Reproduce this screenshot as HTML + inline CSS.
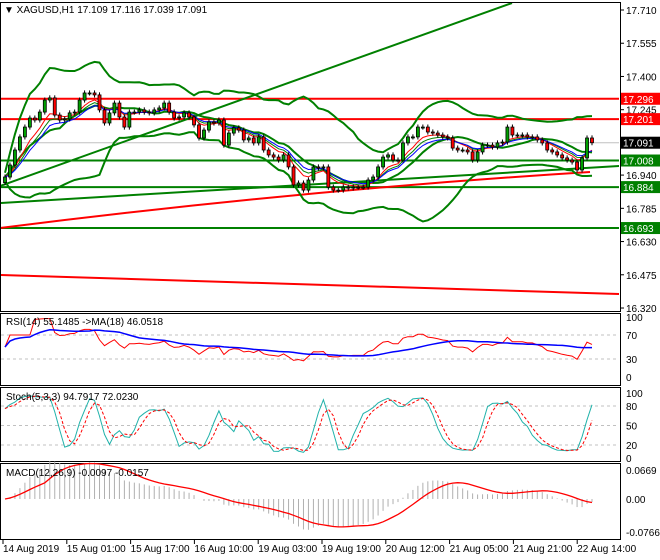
<!DOCTYPE html>
<html><head><meta charset="utf-8"><style>
html,body{margin:0;padding:0;background:#fff;}
svg{display:block;font-family:"Liberation Sans",sans-serif;}
</style></head><body>
<svg id="c" width="660" height="560" viewBox="0 0 660 560"></svg>
<script>
const closes=[16.931,16.987,17.057,17.118,17.164,17.206,17.197,17.234,17.290,17.300,
17.220,17.197,17.202,17.230,17.234,17.290,17.323,17.323,17.314,17.244,
17.183,17.230,17.276,17.211,17.164,17.234,17.234,17.244,17.234,17.230,
17.244,17.253,17.276,17.234,17.206,17.211,17.230,17.211,17.174,17.113,
17.150,17.188,17.183,17.197,17.080,17.136,17.160,17.150,17.104,17.113,
17.090,17.118,17.057,17.034,17.024,17.010,17.034,16.978,16.894,16.903,
16.870,16.917,16.978,16.973,16.978,16.884,16.870,16.870,16.884,16.880,
16.884,16.884,16.884,16.917,16.931,16.978,17.024,17.034,17.010,17.010,
17.090,17.118,17.118,17.164,17.164,17.141,17.136,17.127,17.118,17.113,
17.066,17.057,17.057,17.048,17.010,17.048,17.080,17.080,17.071,17.090,
17.094,17.164,17.127,17.127,17.127,17.118,17.118,17.104,17.090,17.057,
17.048,17.034,17.020,17.010,17.001,16.964,17.020,17.113,17.091];
const firstOpen=16.905;
const priceTicks=[17.710,17.555,17.400,17.245,16.940,16.785,16.630,16.475,16.320];
const redLevels=[17.296,17.201];
const greenLevels=[17.008,16.884,16.693];
const lastPrice=17.091;
const timeLabels=["14 Aug 2019","15 Aug 01:00","15 Aug 17:00","16 Aug 10:00","19 Aug 03:00","19 Aug 19:00","20 Aug 12:00","21 Aug 05:00","21 Aug 21:00","22 Aug 14:00"];
const rsiTicks=[100,70,30,0];
const stochTicks=[100,80,50,20,0];
const macdTicks=[0.0669,0.00,-0.0766];

const svg=document.getElementById('c');
const NS='http://www.w3.org/2000/svg';
function mk(tag,at,parent){const e=document.createElementNS(NS,tag);for(const k in at)e.setAttribute(k,at[k]);(parent||svg).appendChild(e);return e;}
const N=closes.length;
const X0=5,XW=(592-5)/(N-1);
const xs=i=>X0+i*XW;
const py=p=>10+(17.710-p)*214.4;
const ry=v=>377-v*0.6;
const sy=v=>458-v*0.65;
const my=v=>499-v*430;
function poly(vals,yf,attrs,name,start){let pts=[];vals.forEach((v,i)=>{if(v!=null&&i>=(start||0))pts.push(xs(i).toFixed(1)+','+yf(v).toFixed(1));});const e=mk('polyline',Object.assign({points:pts.join(' '),fill:'none'},attrs));return e;}

// frames
[[0,2,620,311],[0,313,620,385],[0,387,620,461],[0,463,620,539]].forEach((r,i)=>{const e=mk('rect',{x:r[0]+0.5,y:r[1]+0.5,width:r[2]-r[0],height:r[3]-r[1],fill:'none',stroke:'#000'});
});

// derived series
const opens=closes.map((c,i)=>i?closes[i-1]:firstOpen);
const highs=closes.map((c,i)=>Math.max(c,opens[i])+0.012);
const lows=closes.map((c,i)=>Math.min(c,opens[i])-0.012);
function ema(a,n){const k=2/(n+1);let r=[],p=a[0];a.forEach(v=>{p=v*k+p*(1-k);r.push(p);});return r;}
function sma(a,n){return a.map((v,i)=>{const s=a.slice(Math.max(0,i-n+1),i+1);return s.reduce((x,y)=>x+y,0)/s.length;});}
const mid=sma(closes,20);
const sd=closes.map((v,i)=>{const s=closes.slice(Math.max(0,i-19),i+1);const m=mid[i];return Math.sqrt(s.reduce((a,b)=>a+(b-m)*(b-m),0)/s.length);});

// main clip
mk('clipPath',{id:'mc'}).appendChild(Object.assign(document.createElementNS(NS,'rect'),{}));
document.querySelector('#mc rect').setAttribute('x',1);document.querySelector('#mc rect').setAttribute('y',3);
document.querySelector('#mc rect').setAttribute('width',618);document.querySelector('#mc rect').setAttribute('height',307);
const g=mk('g',{'clip-path':'url(#mc)'});


function line(x1,y1,x2,y2,st,w,name,parent){const e=mk('line',{x1,y1,x2,y2,stroke:st,'stroke-width':w},parent||g);return e;}
line(0,py(lastPrice),620,py(lastPrice),'#c0c0c0',1,'current-price-line');
redLevels.forEach(l=>line(0,py(l),620,py(l),'#ff0000',2,'resistance-level'));
greenLevels.forEach(l=>line(0,py(l),620,py(l),'#008000',2,'support-level'));
line(0,186,512,3,'#008000',2,'trendline-upper');
line(0,203,620,166,'#008000',2,'trendline-lower');
line(0,275,620,294,'#ff0000',2,'red-lower-line');
{const e=mk('path',{d:'M0,228 Q300,190 590,172',fill:'none',stroke:'#ff0000','stroke-width':2},g);}

poly(mid.map((m,i)=>m+2.3*sd[i]+0.02),py,{stroke:'#008000','stroke-width':2},'bollinger-upper').remove;
g.appendChild(svg.lastChild);
poly(mid.map((m,i)=>m-2.3*sd[i]-0.02),py,{stroke:'#008000','stroke-width':2},'bollinger-lower');g.appendChild(svg.lastChild);
poly(sma(closes,12),py,{stroke:'#008000','stroke-width':2},'bollinger-middle');g.appendChild(svg.lastChild);
poly(ema(closes,8),py,{stroke:'#008000','stroke-width':1},'ma-green');g.appendChild(svg.lastChild);
poly(ema(closes,6),py,{stroke:'#ff0000','stroke-width':1},'ma-red');g.appendChild(svg.lastChild);
poly(ema(closes,10),py,{stroke:'#0000ff','stroke-width':1},'ma-blue');g.appendChild(svg.lastChild);

closes.forEach((c,i)=>{const x=xs(i),o=opens[i];
const w=mk('line',{x1:x,x2:x,y1:py(highs[i]),y2:py(lows[i]),stroke:'#000'},g);

const t=py(Math.max(c,o)),b=py(Math.min(c,o));
const r=mk('rect',{x:x-1.5,y:t,width:3,height:Math.max(1,b-t),fill:c>=o?'#00a000':'#ff0000',stroke:'#000','stroke-width':0.8},g);
});

function txt(x,y,s,attrs,name){const e=mk('text',Object.assign({x,y,'font-size':10,fill:'#000'},attrs||{}));e.textContent=s;return e;}
txt(4,13,'▼ XAGUSD,H1  17.109 17.116 17.039 17.091',{},'chart-title');

priceTicks.forEach(p=>{line(620,py(p),624,py(p),'#000',1,'price-tick',svg);txt(626,py(p)+4,p.toFixed(3),{},'price-label');});
function box(p,col,name){const y=py(p);const r=mk('rect',{x:621,y:y-6,width:39,height:12,fill:col});txt(623,y+4,p.toFixed(3),{fill:'#fff'},name+'-label');}
redLevels.forEach(l=>box(l,'#ff0000','resistance'));
box(lastPrice,'#000','current-price');
greenLevels.forEach(l=>box(l,'#008000','support'));

// RSI
let rsi=[],ag=0,al=0;
closes.forEach((c,i)=>{if(i===0){rsi.push(50);return;}const d=c-closes[i-1];ag=(ag*13+Math.max(d,0))/14;al=(al*13+Math.max(-d,0))/14;rsi.push(al===0?70:100-100/(1+ag/al));});
const rsiMa=sma(rsi,18);
[70,30].forEach(v=>{const e=mk('line',{x1:1,x2:619,y1:ry(v),y2:ry(v),stroke:'#c0c0c0','stroke-dasharray':'3,3'});});
poly(rsi,ry,{stroke:'#ff0000','stroke-width':1},'rsi-line');
poly(rsiMa,ry,{stroke:'#0000ff','stroke-width':1.5},'rsi-ma-line');
rsiTicks.forEach(v=>txt(626,ry(v)+4,String(v),{},'rsi-axis-label'));
txt(6,325,'RSI(14) 55.1485  ->MA(18) 46.0518',{},'rsi-legend');

// Stoch
const K=closes.map((c,i)=>{const hh=Math.max(...highs.slice(Math.max(0,i-4),i+1)),ll=Math.min(...lows.slice(Math.max(0,i-4),i+1));return 100*(c-ll)/(hh-ll);});
const Ks=sma(K,3),D=sma(Ks,3);
[80,50,20].forEach(v=>{const e=mk('line',{x1:1,x2:619,y1:sy(v),y2:sy(v),stroke:'#c0c0c0','stroke-dasharray':'3,3'});});
poly(Ks,sy,{stroke:'#20b2aa','stroke-width':1},'stoch-main');
poly(D,sy,{stroke:'#ff0000','stroke-width':1,'stroke-dasharray':'3,2'},'stoch-signal');
stochTicks.forEach(v=>txt(626,sy(v)+4,String(v),{},'stoch-axis-label'));
txt(6,400,'Stoch(5,3,3) 94.7917 72.0230',{},'stoch-legend');

// MACD
const e12=ema(closes,12),e26=ema(closes,26);
const macd=e12.map((v,i)=>v-e26[i]);const sig=sma(macd,9);
macd.forEach((v,i)=>{const e=mk('line',{x1:xs(i),x2:xs(i),y1:my(0),y2:my(v),stroke:'#b0b0b0'});});
poly(sig,my,{stroke:'#ff0000','stroke-width':1.3},'macd-signal');
macdTicks.forEach(v=>txt(626,my(v)+4,v===0?'0.00':v.toFixed(4),{},'macd-axis-label'));
txt(6,476,'MACD(12,26,9) -0.0097 -0.0157',{},'macd-legend');

// time axis
timeLabels.forEach((s,i)=>{const x=3+i*63.8;line(x,539,x,544,'#000',1,'time-tick',svg);txt(x,552,s,{},'time-label');});
</script>
</body></html>
